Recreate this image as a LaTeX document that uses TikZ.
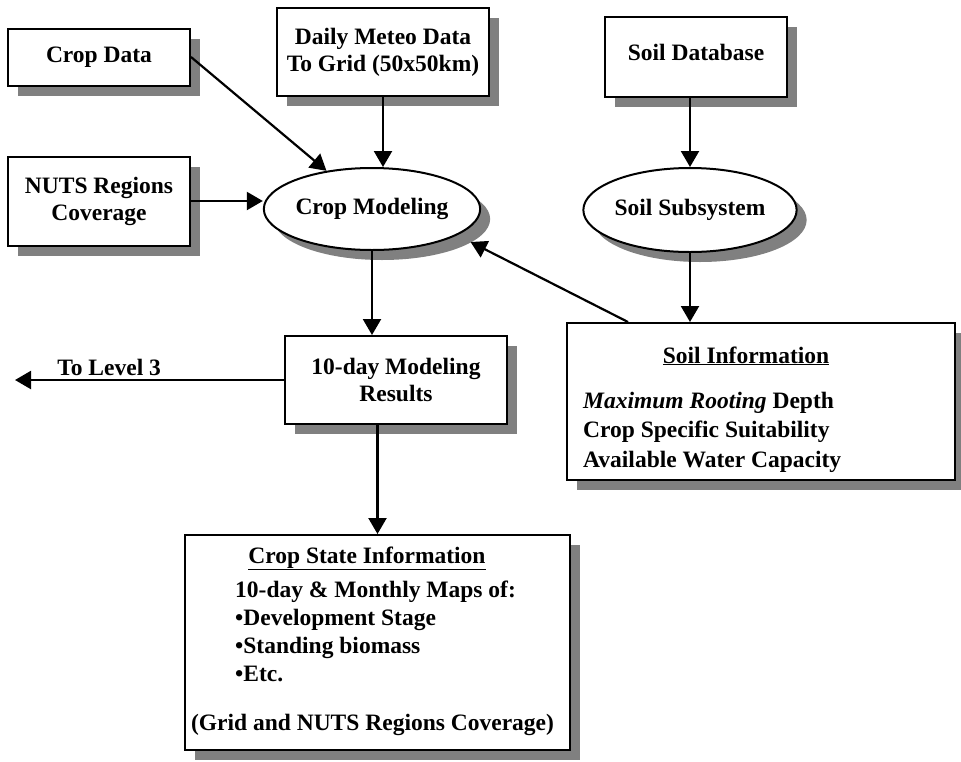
\documentclass[tikz,border=0pt]{standalone}
\usepackage{fontspec}
\setmainfont{Liberation Serif}
\usetikzlibrary{shapes.geometric,shadows,arrows.meta}

\begin{document}
\begin{tikzpicture}[x=1pt,y=-1pt,
						font=\fontsize{23.5}{27}\selectfont\bfseries,
						boxshadow/.style={drop shadow={shadow xshift=10pt,shadow yshift=-10pt,
							fill=black!50,opacity=1}},
						box/.style={draw,line width=2pt,fill=white,boxshadow,
							align=center,inner sep=0pt},
						oval/.style={ellipse,draw,line width=2pt,fill=white,boxshadow,
							inner sep=0pt},
						txt/.style={inner sep=0pt},
						arr/.style={-{Triangle[length=16pt,width=18pt]},line width=2.2pt}]

		\useasboundingbox (0,0) rectangle (961,761);

		\node[box,minimum width=182pt,minimum height=57pt] (crop) at (99,57) {Crop Data};
		\node[box,minimum width=212pt,minimum height=88pt] (meteo) at (383,52)
			{Daily Meteo Data\\To Grid (50x50km)};
		\node[box,minimum width=182pt,minimum height=80pt] (soildb) at (696,57)
			{\raisebox{10pt}{Soil Database}};
		\node[box,minimum width=182pt,minimum height=89pt] (nuts) at (99,201)
			{NUTS Regions\\Coverage};
		\node[oval,minimum width=190pt,minimum height=82pt] (cropmod) at (372,209) {Crop Modeling};
		\node[oval,minimum width=190pt,minimum height=84pt] (soilsub) at (690,210) {Soil Subsystem};
		\node[box,minimum width=222pt,minimum height=88pt] (results) at (396,380)
			{10-day Modeling\\Results};

		\node[box,minimum width=388pt,minimum height=157pt] (soilinfo) at (761,401.5) {};
		\node[txt,anchor=base] (soilinfo-title) at (746,363) {\underline{Soil Information}};
		\node[txt,anchor=base west,align=left,font=\fontsize{23.5}{29.5}\selectfont\bfseries]
			(soilinfo-list) at (583,467)
			{\textit{Maximum Rooting} Depth\\Crop Specific Suitability\\Available Water Capacity};

		\node[box,minimum width=385pt,minimum height=215pt] (state) at (377.5,642.5) {};
		\node[txt,anchor=base] (state-title) at (367,563) {\underline{Crop State Information}};
		\node[txt,anchor=base west,align=left,font=\fontsize{23.5}{28}\selectfont\bfseries]
			(state-list) at (235,681)
			{10-day \& Monthly Maps of:\\\textbullet Development Stage\\
			 \textbullet Standing biomass\\\textbullet Etc.};
		\node[txt,anchor=base] (state-note) at (372.5,730) {(Grid and NUTS Regions Coverage)};

		\coordinate (lvl3) at (15,380);

		\draw[arr] (crop.east) -- (cropmod.140);
		\draw[arr] (meteo.south) -- (meteo.south |- cropmod.north);
		\draw[arr] (nuts.east) -- (nuts.east -| cropmod.west);
		\draw[arr] (soildb.south -| soilsub.north) -- (soilsub.north);
		\draw[arr] (soilsub.south) -- (soilsub.south |- soilinfo.north);
		\draw[arr] ([xshift=62pt]soilinfo.north west) -- ([shift={(9pt,-9pt)}]cropmod.-15);
		\draw[arr] (cropmod.south) -- (cropmod.south |- results.north);
		\draw[arr] (results.west) -- node[pos=0.65,above] {To Level 3} (lvl3);
		\draw[arr] (results.south -| state.north) -- (state.north);

	\end{tikzpicture}
\end{document}
